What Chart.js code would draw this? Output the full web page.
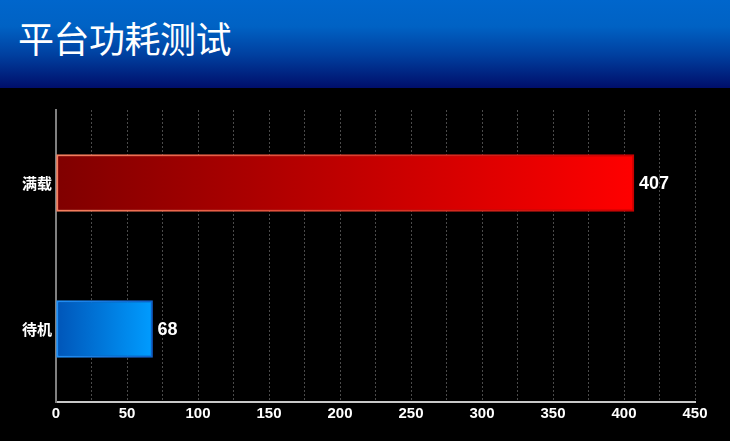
<!DOCTYPE html>
<html><head><meta charset="utf-8">
<script src="https://cdn.jsdelivr.net/npm/chart.js@4"></script>
<style>
html,body{margin:0;padding:0;background:#000;width:730px;height:441px;overflow:hidden}
#hdr{position:absolute;left:0;top:0;width:730px;height:88px;background:linear-gradient(to bottom,#0066cc 0%,#0062c4 30%,#0040a0 62%,#000e6a 100%)}
#title{position:absolute;left:18px;top:13px;color:#fff;font-family:"Noto Sans CJK SC";font-size:36px;font-weight:400;line-height:48px;letter-spacing:-0.5px}
#wrap{position:absolute;left:0;top:88px;width:730px;height:353px}
</style></head><body>
<div id="hdr"><div id="title">平台功耗测试</div></div>
<div id="wrap"><canvas id="c" width="730" height="353"></canvas></div>
<script>
const categories = ['满载', '待机'];
const values = [407, 68];
const tickLabels = [0, 50, 100, 150, 200, 250, 300, 350, 400, 450];
const fillStops = [['#800000', '#ff0000'], ['#0055b8', '#009cff']];
const borderStops = [['#f58060', '#c80000'], ['#2090f8', '#1060c8']];

function grad(ctx, stops) {
  const chart = ctx.chart;
  if (!chart.chartArea || !chart.scales.x) return stops[0][1];
  const xs = chart.scales.x;
  const x0 = xs.getPixelForValue(0);
  const x1 = xs.getPixelForValue(values[ctx.dataIndex]);
  const g = chart.ctx.createLinearGradient(x0, 0, x1, 0);
  g.addColorStop(0, stops[ctx.dataIndex][0]);
  g.addColorStop(1, stops[ctx.dataIndex][1]);
  return g;
}

const labelPlugin = {
  id: 'vals',
  afterDatasetsDraw(chart) {
    const c = chart.ctx;
    const meta = chart.getDatasetMeta(0);
    c.save();
    c.fillStyle = '#fff';
    c.font = 'bold 18px "Liberation Sans", Arial, sans-serif';
    c.textBaseline = 'middle';
    c.textAlign = 'left';
    meta.data.forEach((el, i) => {
      c.fillText(String(values[i]), el.x + 5, el.y + 1);
    });
    c.restore();
  }
};

new Chart(document.getElementById('c'), {
  type: 'bar',
  data: {
    labels: categories,
    datasets: [{
      data: values,
      backgroundColor: ctx => grad(ctx, fillStops),
      borderColor: ctx => grad(ctx, borderStops),
      borderWidth: 2,
      borderSkipped: false,
      barThickness: 57
    }]
  },
  options: {
    indexAxis: 'y',
    responsive: false,
    animation: false,
    layout: { padding: { left: 0, right: 35, top: 22, bottom: 0 } },
    plugins: { legend: { display: false }, tooltip: { enabled: false } },
    scales: {
      x: {
        min: 0, max: 450,
        ticks: {
          stepSize: 25,
          color: '#fff',
          padding: 3,
          font: { family: '"Liberation Sans", Arial, sans-serif', size: 15, weight: 'bold' },
          callback: v => tickLabels.includes(v) ? String(v) : ''
        },
        grid: { color: '#4a4a4a', lineWidth: 1, drawTicks: false },
        border: { color: '#c8c8c8', width: 2, dash: [2, 2] },
        afterFit: s => { s.height = 39; }
      },
      y: {
        ticks: {
          color: '#fff',
          padding: 4,
          font: { family: '"Noto Sans CJK SC"', size: 15, weight: 'bold' }
        },
        grid: { display: false, drawTicks: false },
        border: { color: '#808080', width: 2 },
        afterFit: s => { s.width = 56; }
      }
    }
  },
  plugins: [labelPlugin]
});
</script>
</body></html>
